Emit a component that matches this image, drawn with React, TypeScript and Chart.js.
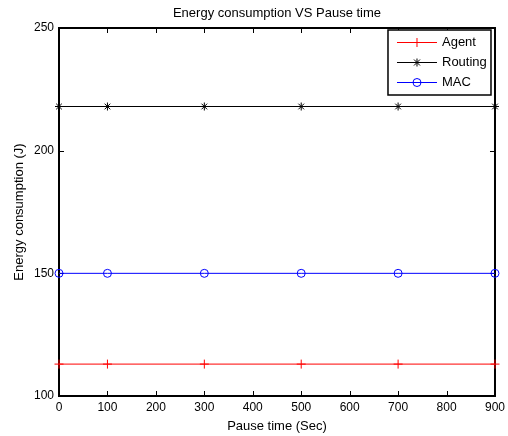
import React, { useEffect, useRef } from "react";
import { Chart, registerables } from "chart.js";

Chart.register(...registerables);

// ---- data ----
const pauseTimes = [0, 100, 300, 500, 700, 900];
const agentEnergy = [113, 113, 113, 113, 113, 113];
const routingEnergy = [218, 218, 218, 218, 218, 218];
const macEnergy = [150, 150, 150, 150, 150, 150];

const xTickValues = [0, 100, 200, 300, 400, 500, 600, 700, 800, 900];
const yTickValues = [100, 150, 200, 250];

const seriesNames = ["Agent", "Routing", "MAC"];
const seriesColors = ["#ff0000", "#000000", "#0000ff"];
const seriesMarkers = ["cross", "star", "circle"];

const chartTitle = "Energy consumption VS Pause time";
const xTitle = "Pause time (Sec)";
const yTitle = "Energy consumption (J)";

const FONT = "'Liberation Sans', Arial, Helvetica, sans-serif";

function markerRadius(style: string) {
  if (style === "circle") return 4;
  if (style === "star") return 4;
  return 4.5;
}

function drawMarker(ctx: CanvasRenderingContext2D, style: string, x: number, y: number, r: number, color: string) {
  ctx.save();
  ctx.strokeStyle = color;
  ctx.lineWidth = 1;
  ctx.beginPath();
  if (style === "cross") {
    ctx.moveTo(x - r, y); ctx.lineTo(x + r, y);
    ctx.moveTo(x, y - r); ctx.lineTo(x, y + r);
  } else if (style === "star") {
    const d = r * 0.75;
    ctx.moveTo(x - r, y); ctx.lineTo(x + r, y);
    ctx.moveTo(x, y - r); ctx.lineTo(x, y + r);
    ctx.moveTo(x - d, y - d); ctx.lineTo(x + d, y + d);
    ctx.moveTo(x - d, y + d); ctx.lineTo(x + d, y - d);
  } else {
    ctx.arc(x, y, r, 0, Math.PI * 2);
  }
  ctx.stroke();
  ctx.restore();
}

const framePlugin = {
  id: "matlabFrame",
  beforeDatasetsDraw(chart: any) {
    const ctx: CanvasRenderingContext2D = chart.ctx;
    const { left, right, top, bottom } = chart.chartArea;
    const xs = chart.scales.x;
    const ys = chart.scales.y;
    const tl = 5;
    ctx.save();
    ctx.strokeStyle = "#000";
    ctx.lineWidth = 1;
    ctx.beginPath();
    xTickValues.forEach((v) => {
      const px = Math.round(xs.getPixelForValue(v)) + 0.5;
      ctx.moveTo(px, bottom); ctx.lineTo(px, bottom - tl);
      ctx.moveTo(px, top); ctx.lineTo(px, top + tl);
    });
    yTickValues.forEach((v) => {
      const py = Math.round(ys.getPixelForValue(v)) + 0.5;
      ctx.moveTo(left, py); ctx.lineTo(left + tl, py);
      ctx.moveTo(right, py); ctx.lineTo(right - tl, py);
    });
    ctx.stroke();
    ctx.lineWidth = 2;
    ctx.strokeRect(left, top, right - left, bottom - top);
    ctx.restore();
  },
  afterDraw(chart: any) {
    const ctx: CanvasRenderingContext2D = chart.ctx;
    const { right, top } = chart.chartArea;
    const bx = right - 107;
    const by = top + 2;
    const bw = 103;
    const bh = 65;
    ctx.save();
    ctx.fillStyle = "#ffffff";
    ctx.fillRect(bx, by, bw, bh);
    ctx.strokeStyle = "#000";
    ctx.lineWidth = 1.5;
    ctx.strokeRect(bx, by, bw, bh);
    ctx.font = `13px ${FONT}`;
    ctx.textBaseline = "middle";
    ctx.textAlign = "left";
    seriesNames.forEach((name, i) => {
      const ry = by + 12.5 + i * 20;
      ctx.strokeStyle = seriesColors[i];
      ctx.lineWidth = 1;
      ctx.beginPath();
      ctx.moveTo(bx + 9, ry);
      ctx.lineTo(bx + 49, ry);
      ctx.stroke();
      drawMarker(ctx, seriesMarkers[i], bx + 29, ry, markerRadius(seriesMarkers[i]), seriesColors[i]);
      ctx.fillStyle = "#000";
      ctx.fillText(name, bx + 54, ry);
    });
    ctx.restore();
  },
};

function makeDataset(label: string, values: number[], color: string, marker: string) {
  return {
    label,
    data: pauseTimes.map((x, i) => ({ x, y: values[i] })),
    borderColor: color,
    backgroundColor: color,
    borderWidth: 1,
    pointStyle: marker,
    pointRadius: markerRadius(marker),
    pointBorderColor: color,
    pointBackgroundColor: "rgba(0,0,0,0)",
    pointBorderWidth: 1,
    tension: 0,
    clip: false as any,
  };
}

export default function App() {
  const ref = useRef<HTMLCanvasElement | null>(null);
  useEffect(() => {
    document.body.style.margin = "0";
    const canvas = ref.current;
    if (!canvas) return;
    const chart = new Chart(canvas, {
      type: "line",
      data: {
        datasets: [
          makeDataset(seriesNames[0], agentEnergy, seriesColors[0], seriesMarkers[0]),
          makeDataset(seriesNames[1], routingEnergy, seriesColors[1], seriesMarkers[1]),
          makeDataset(seriesNames[2], macEnergy, seriesColors[2], seriesMarkers[2]),
        ] as any,
      },
      options: {
        responsive: false,
        animation: false,
        devicePixelRatio: 1,
        layout: { padding: { left: 0, right: 13, top: 0, bottom: 0 } },
        plugins: {
          legend: { display: false },
          tooltip: { enabled: false },
          title: {
            display: true,
            text: chartTitle,
            fullSize: false,
            color: "#000",
            font: { family: FONT, size: 13, weight: "normal" as any },
            padding: { top: 5.5, bottom: 6.9 },
          },
        },
        scales: {
          x: {
            type: "linear",
            min: 0,
            max: 900,
            afterBuildTicks: (s: any) => {
              s.ticks = xTickValues.map((v) => ({ value: v }));
            },
            afterFit: (s: any) => {
              s.height = 40;
            },
            grid: { display: false, drawTicks: false },
            border: { display: false },
            ticks: {
              color: "#000",
              font: { family: FONT, size: 12, lineHeight: 1.5 },
              padding: 3,
              maxRotation: 0,
              autoSkip: false,
            },
            title: {
              display: true,
              text: xTitle,
              color: "#000",
              font: { family: FONT, size: 13 },
              padding: { top: 0, bottom: 2 },
            },
          },
          y: {
            type: "linear",
            min: 100,
            max: 250,
            afterBuildTicks: (s: any) => {
              s.ticks = yTickValues.map((v) => ({ value: v }));
            },
            afterFit: (s: any) => {
              s.width = 59;
            },
            grid: { display: false, drawTicks: false },
            border: { display: false },
            ticks: {
              color: "#000",
              font: { family: FONT, size: 12 },
              padding: 5,
              autoSkip: false,
            },
            title: {
              display: true,
              text: yTitle,
              color: "#000",
              font: { family: FONT, size: 13 },
              padding: { top: 12, bottom: 0 },
            },
          },
        },
      },
      plugins: [framePlugin],
    });
    return () => chart.destroy();
  }, []);
  return (
    <canvas ref={ref} width={508} height={436} style={{ display: "block" }} />
  );
}
